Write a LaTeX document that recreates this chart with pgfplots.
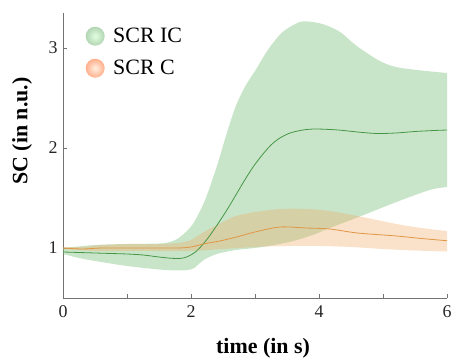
\documentclass[border=0pt]{standalone}
\usepackage{fontspec}
\setmainfont{Liberation Serif}
\usepackage{pgfplots}
\pgfplotsset{compat=1.18}
\usepgfplotslibrary{fillbetween}
\definecolor{gline}{RGB}{70,150,70}
\definecolor{gfill}{RGB}{120,190,120}
\definecolor{oline}{RGB}{225,150,70}
\definecolor{ofill}{RGB}{240,170,100}
\definecolor{axgray}{RGB}{115,115,115}
\begin{document}
\begin{tikzpicture}
\begin{axis}[
  name=ax,
  scale only axis,
  width=384bp, height=285bp,
  xmin=0, xmax=6, ymin=0.5, ymax=3.35,
  axis x line*=bottom, axis y line*=left,
  axis line style={axgray, line width=1pt},
  tick style={axgray, line width=0.8pt},
  tick align=inside,
  major tick length=4bp,
  xtick={0,1,2,3,4,5,6},
  xticklabels={\textrm{0},,\textrm{2},,\textrm{4},,\textrm{6}},
  ytick={1,2,3},
  yticklabels={\textrm{1},\textrm{2},\textrm{3}},
  tick label style={font=\fontsize{18}{20}\selectfont, text=black!85},
  xticklabel style={yshift=-4bp},
  yticklabel style={xshift=-2bp},
  xlabel={\textbf{time (in s)}},
  ylabel={\textbf{SC (in n.u.)}},
  every axis x label/.style={at={([yshift=-50bp]axis description cs:0.521,0)}, anchor=center, font=\fontsize{22}{24}\selectfont},
  every axis y label/.style={at={([xshift=-41bp]axis description cs:0,0.586)}, anchor=center, rotate=90, font=\fontsize{22}{24}\selectfont},
  legend style={at={([xshift=22.5bp,yshift=-13.5bp]axis description cs:0,1)}, anchor=north west, draw=none, fill=none,
    inner sep=0pt, font=\fontsize{22}{24}\selectfont, row sep=13bp,
    nodes={inner sep=0pt}},
  legend cell align=left,
]
% green band
\addplot[name path=gu, draw=none, smooth, forget plot] coordinates {
(0,1.0) (0.5,1.03) (1.0,1.04) (1.5,1.045) (1.67,1.06) (1.83,1.11) (2.03,1.24) (2.22,1.48) (2.40,1.81) (2.56,2.15) (2.70,2.42) (2.85,2.62) (3.0,2.77) (3.15,2.93) (3.28,3.05) (3.45,3.17) (3.7,3.26) (3.9,3.26) (4.1,3.23) (4.33,3.16) (4.59,3.02) (4.95,2.87) (5.2,2.81) (5.47,2.785) (5.75,2.765) (6.0,2.75)};
\addplot[name path=gl, draw=none, smooth, forget plot] coordinates {
(0,0.94) (0.25,0.9) (0.5,0.87) (1.0,0.82) (1.5,0.785) (1.8,0.775) (1.95,0.78) (2.05,0.80) (2.2,0.88) (2.4,0.94) (2.7,0.98) (3.0,1.0) (3.3,1.03) (3.6,1.07) (3.9,1.13) (4.17,1.2) (4.64,1.315) (5.21,1.46) (5.73,1.58) (6.0,1.61)};
\addplot[gfill, fill opacity=0.4, draw=none, forget plot] fill between[of=gu and gl];
% orange band
\addplot[name path=ou, draw=none, smooth, forget plot] coordinates {
(0,1.01) (0.3,1.01) (0.6,1.03) (1.0,1.04) (1.5,1.04) (1.8,1.05) (2.0,1.08) (2.2,1.16) (2.5,1.26) (2.7,1.32) (3.0,1.36) (3.4,1.39) (3.8,1.39) (4.17,1.37) (4.64,1.315) (5.21,1.24) (5.6,1.2) (6.0,1.17)};
\addplot[name path=ol, draw=none, smooth, forget plot] coordinates {
(0,0.99) (0.5,0.97) (1.0,0.97) (1.5,0.97) (2.0,0.97) (2.5,0.99) (3.0,1.01) (3.5,1.02) (4.0,1.02) (4.5,1.01) (5.0,0.99) (5.5,0.975) (6.0,0.965)};
\addplot[ofill, fill opacity=0.35, draw=none, forget plot] fill between[of=ou and ol];
% mean lines
\addplot[gline, line width=0.8pt, smooth, forget plot] coordinates {
(0,0.96) (0.25,0.955) (0.5,0.95) (0.75,0.945) (1.0,0.94) (1.25,0.93) (1.5,0.91) (1.7,0.897) (1.85,0.897) (1.95,0.915) (2.07,0.96) (2.19,1.04) (2.3,1.13) (2.45,1.27) (2.58,1.4) (2.71,1.54) (2.84,1.68) (2.97,1.81) (3.1,1.92) (3.25,2.03) (3.39,2.10) (3.55,2.15) (3.75,2.18) (3.95,2.19) (4.3,2.18) (4.6,2.16) (4.9,2.145) (5.2,2.15) (5.5,2.165) (5.8,2.175) (6.0,2.18)};
\addplot[oline, line width=0.8pt, smooth, forget plot] coordinates {
(0,1.0) (0.3,0.99) (0.6,1.0) (1.0,1.0) (1.5,1.0) (1.8,1.0) (2.0,1.01) (2.19,1.04) (2.45,1.07) (2.71,1.11) (3.0,1.16) (3.39,1.21) (3.8,1.2) (4.17,1.19) (4.6,1.15) (5.21,1.12) (5.6,1.095) (6.05,1.07)};
\addlegendimage{draw=none, fill=none, legend image code/.code={\shade[draw=none, inner color=green!12, outer color=green!45!black!30!white] (9.5bp,0bp) circle (9.5bp); \path[draw=none, fill=none] (0,-9.5bp) rectangle (27.5bp,9.5bp);}}
\addlegendentry{SCR IC}
\addlegendimage{draw=none, fill=none, legend image code/.code={\shade[draw=none, inner color=orange!12, outer color=orange!60!red!45!white] (9.5bp,0bp) circle (9.5bp); \path[draw=none, fill=none] (0,-9.5bp) rectangle (27.5bp,9.5bp);}}
\addlegendentry{SCR C}
\end{axis}
\pgfresetboundingbox
\path[use as bounding box] ([xshift=-63bp,yshift=-63bp]ax.south west) rectangle ([xshift=4bp,yshift=13bp]ax.north east);
\end{tikzpicture}
\end{document}
